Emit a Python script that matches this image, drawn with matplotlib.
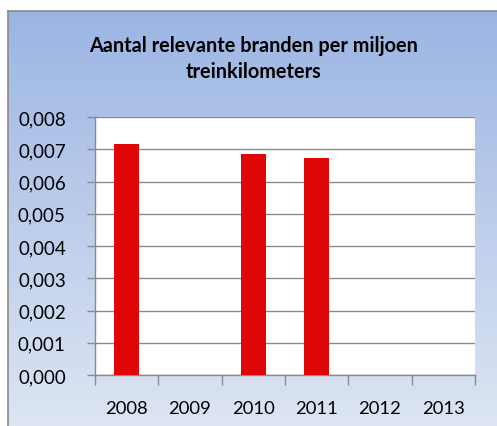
import matplotlib
matplotlib.use("Agg")
import matplotlib.pyplot as plt
import numpy as np

years = ["2008", "2009", "2010", "2011", "2012", "2013"]
values = [0.00716, 0.0, 0.00684, 0.00672, 0.0, 0.0]
ytick_vals = [0.000, 0.001, 0.002, 0.003, 0.004, 0.005, 0.006, 0.007, 0.008]
ytick_labels = ["0,000", "0,001", "0,002", "0,003", "0,004", "0,005", "0,006", "0,007", "0,008"]
title = "Aantal relevante branden per miljoen\ntreinkilometers"

W, H = 497, 427
fig = plt.figure(figsize=(W / 100, H / 100), dpi=100)
fig.patch.set_facecolor("white")

# gradient background
bg = fig.add_axes([8 / W, 0, 1 - 8 / W, 1 - 12 / H])
top = np.array([155, 181, 227]) / 255
bot = np.array([221, 229, 243]) / 255
t = np.linspace(0, 1, 256)[:, None]
grad = top[None, :] * (1 - t) + bot[None, :] * t
bg.imshow(grad[:, None, :], aspect="auto", extent=[0, 1, 0, 1])
bg.set_xlim(0, 1)
bg.set_ylim(0, 1)
bg.set_xticks([])
bg.set_yticks([])
for s in ["right", "bottom"]:
    bg.spines[s].set_visible(False)
for s in ["left", "top"]:
    bg.spines[s].set_color("#8a8a8a")
    bg.spines[s].set_linewidth(1.2)

font = "Lato"
fig.text(254 / W, 1 - 59 / H, title, ha="center", va="center", fontsize=14.3,
         fontweight="bold", family=font, linespacing=1.35)

left, right, topp, bottom = 95, 475, 118, 376
ax = fig.add_axes([left / W, 1 - bottom / H, (right - left) / W, (bottom - topp) / H])
ax.set_facecolor("white")
x = np.arange(len(years))
ax.bar(x, values, width=0.4, color="#DE0606", zorder=3)
ax.set_xlim(-0.5, len(years) - 0.5)
ax.set_ylim(0, 0.008)
ax.set_yticks(ytick_vals)
ax.set_yticklabels(ytick_labels, family=font, fontsize=13.5)
ax.set_xticks(x)
ax.set_xticklabels(years, family=font, fontsize=13.3)
ax.set_xticks(np.arange(-0.5, len(years)), minor=True)
ax.tick_params(axis="x", which="major", length=0, pad=18)
ax.tick_params(axis="x", which="minor", length=7, color="#8a8a8a", width=1)
ax.tick_params(axis="y", length=6, color="#8a8a8a", width=1, pad=15)
ax.grid(axis="y", color="#8a8a8a", linewidth=1, zorder=1)
for s in ["top", "right"]:
    ax.spines[s].set_visible(False)
for s in ["left", "bottom"]:
    ax.spines[s].set_color("#8a8a8a")
    ax.spines[s].set_linewidth(1)

fig.savefig("out.png", dpi=100)
